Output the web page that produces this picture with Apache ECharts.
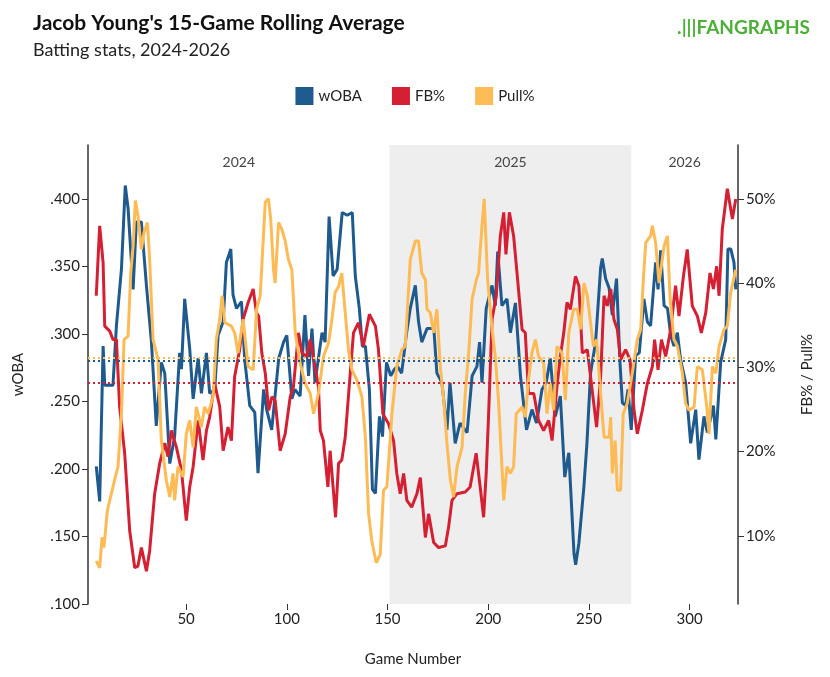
<!DOCTYPE html>
<html>
<head>
<meta charset="utf-8">
<script src="https://cdn.jsdelivr.net/npm/echarts@6/dist/echarts.min.js"></script>
<style>html,body{margin:0;padding:0;background:#fff}#chart{width:830px;height:677px}</style>
</head>
<body>
<div id="chart"></div>
<script>
// wOBA: [game, value]
var wobaPts = [[5.4,.202],[7.1,.176],[8.8,.291],[9.6,.262],[13.7,.262],[15.4,.306],[17.9,.348],[19.8,.410],[21.2,.393],[23.7,.333],[25.3,.383],[27.8,.383],[30.3,.336],[32.8,.294],[35.2,.232],[37.7,.279],[39.4,.271],[41.9,.204],[44.3,.224],[46.8,.286],[47.7,.274],[49.3,.326],[51.8,.289],[53.5,.252],[56,.282],[57.6,.256],[60.1,.286],[61.7,.256],[64.2,.259],[65.9,.299],[68.4,.309],[70,.353],[72.2,.363],[73.3,.329],[75,.319],[77.5,.324],[79.1,.281],[81.6,.247],[84.1,.242],[85.7,.197],
  [88.5,.259],[90,.244],[92.5,.229],[96,.282],[98.4,.294],[100,.299],[102.5,.252],[104,.259],[106.6,.254],[109,.314],[110.8,.269],[112.5,.304],[114,.264],[117.5,.301],[119,.294],[121,.387],[123,.343],[125,.348],[127.5,.390],[130,.388],[132.5,.390],[134,.343],[136,.319],[137.5,.291],[139,.291],[141,.259],[142.5,.185],[144,.182],[146,.239],[147.5,.224],[149.5,.279],[151.6,.269],[153.5,.274],[155,.276],[157,.271],[159.5,.301],
  [161.3,.319],[163.8,.336],[165.4,.309],[167,.294],[169.6,.304],[173,.304],[174.5,.271],[177,.264],[179.5,.229],[181,.264],[183.6,.219],[186,.234],[189.5,.227],[192,.269],[194.4,.276],[195.7,.294],[196.9,.264],[199,.319],[201.9,.336],[203.5,.321],[204.7,.361],[206.8,.321],[209.3,.326],[211,.301],[213.5,.323],[216,.269],[219,.229],[221.7,.244],[224,.234],[226.7,.259],[228.8,.264],[230.8,.282],[233.3,.239],[235.8,.254],[238,.194],[240,.212],
  [242.6,.137],[243.4,.129],[245,.145],[247.5,.187],[249,.219],[250.8,.271],[253.3,.294],[255.8,.349],[256.6,.356],[258.3,.341],[260,.334],[261.6,.314],[263.7,.341],[265.4,.279],[266.6,.249],[268.2,.247],[269.4,.259],[271,.229],[273.2,.284],[275,.286],[277.3,.326],[279,.309],[280.6,.306],[283.1,.353],[284.3,.333],[285.6,.362],[287.3,.321],[289,.319],[290.6,.299],[292.2,.291],[293.9,.301],[295.5,.281],[298,.264],[300.5,.219],[303,.244],[304.6,.207],[307.1,.239],[308.8,.227],[311.8,.247],[313,.222],[315.4,.279],[317.9,.296],[319,.363],[320.4,.363],[322,.353],[322.9,.333]];

// FB%: [game, percent]
var fbPts = [[5.4,38.5],[7.1,46.8],[8.8,42.4],[9.6,34.9],[12.1,34.3],[13.7,33.3],[15.4,33.3],[17,25.3],[19.5,19.8],[22,10.6],[24.5,6.2],[26.1,6.4],[27.8,8.6],[30.3,5.8],[31.9,8.2],[34.4,15.0],[36.9,18.6],[39.4,21.0],[41,19.4],[42.7,22.5],[45.2,20.5],[47.7,17.8],[50.1,11.8],[51.8,15.8],[53.5,18.2],[56,23.7],[58.4,19.0],[60.1,22.5],[61.7,24.1],[64.2,28.1],[66.7,25.3],[68.4,20.1],[70.8,22.9],[72.5,21.3],[74.1,28.9],[76.6,32.1],[78.3,35.7],[80.8,37.7],[83.3,39.3],[84.9,36.5],
  [86,36.1],[87.6,31.7],[89.3,29.3],[91,24.9],[92.6,26.5],[94.2,26.1],[96.7,20.1],[99.2,22.1],[101.7,26.5],[103.3,27.7],[105.8,34.1],[107.5,31.7],[110,31.3],[111.6,33.3],[114,30.1],[115.7,27.7],[116.6,22.5],[118.2,21.3],[120.4,15.8],[121.5,20.1],[124.2,12.2],[125.7,18.6],[127.3,19.0],[129,21.7],[131.5,29.3],[133.1,34.1],[135.6,35.3],[138,32.5],[141,36.3],[144,34.9],[145.5,32.1],[147.7,24.5],[150.5,23.3],[153,21.3],[154.6,17.4],[156.3,15.0],[158,17.4],[159.6,14.2],[162,13.4],[164.6,15.0],
  [166.3,16.9],[168.8,9.8],[170.4,12.6],[172.9,9.2],[175.4,8.6],[178.7,8.8],[180.3,11.0],[182,14.2],[184.5,15.0],[188.6,15.2],[191,15.8],[194,19.8],[196,15.8],[197.7,12.2],[199,17.4],[200.2,24.5],[201.9,35.7],[204,38.5],[206,45.6],[207.7,48.4],[208.8,43.4],[210.5,48.4],[212.6,45.6],[214.3,41.2],[216.8,34.5],[218.4,34.1],[220,26.9],[222.6,26.9],[225,23.7],[227.5,22.5],[230,23.7],[231.7,21.3],[234.1,27.7],[235.8,31.3],[237.5,34.1],[239.1,37.7],[240.8,36.9],[243.3,40.8],
  [245,39.7],[246.7,31.7],[249.2,32.1],[250.8,28.9],[253.8,22.9],[255.8,28.9],[257.5,38.5],[259.1,37.3],[260.8,39.3],[262.4,35.7],[264.1,34.5],[265.7,30.9],[268.2,32.1],[270.4,30.9],[272.4,24.9],[274,22.1],[276.5,24.9],[279,28.1],[281.5,30.1],[282.6,33.3],[284.3,29.7],[286,33.3],[288.1,31.3],[290.6,34.5],[293,39.7],[294.7,36.1],[296.9,40.8],[298.8,44.0],[301.3,37.3],[303.8,36.1],[305.8,34.1],[308,36.5],[310.1,41.2],[311.8,39.3],[313.4,42.0],[314.6,38.5],[316.2,46.4],[318.7,51.2],[321.2,47.6],[322.9,50.0]];

// Pull%: [game, percent]
var pullPts = [[5.4,7.0],[7.1,6.2],[8.3,9.8],[9.2,8.6],[10.9,13.0],[12.9,15.0],[14.5,16.6],[16.2,18.2],[17.9,24.5],[19.2,33.3],[21.2,33.7],[22.5,41.2],[23.7,44.4],[24.8,49.8],[26.1,48.0],[27.8,44.0],[29.1,46.0],[30.8,47.2],[31.9,42.8],[33.6,33.3],[36.1,30.9],[37.7,21.3],[40.2,16.6],[41.9,14.6],[43.5,17.4],[44.3,14.2],[46,18.2],[48.5,17.0],[50.1,22.1],[51.8,23.7],[53.5,20.5],[55.1,25.3],[57.6,22.9],[59.2,25.3],[60.9,24.5],[63.4,26.5],[65,33.3],[66.7,35.7],[67.9,38.5],[69.2,35.3],[72.5,34.9],[74.1,34.1],[75.8,31.7],[78.3,35.7],[80.8,30.1],[83.3,29.7],
  [85,36.9],[86.8,38.5],[89.3,49.6],[90.9,50.0],[92,47.6],[93.4,41.6],[94.2,40.0],[95.9,47.2],[97.5,46.4],[99.2,45.0],[100.8,42.8],[102.5,41.6],[104.2,34.1],[106.6,30.5],[109.1,28.1],[111.6,26.9],[113.3,24.5],[115.7,26.9],[118.2,31.3],[120.7,32.9],[122.4,35.7],[124,38.9],[125.7,39.6],[127.3,41.2],[129,36.5],[130.6,32.1],[132.3,29.7],[134.8,28.5],[137.3,26.5],[139,21.7],[140.6,12.6],[142.2,9.4],[144.4,6.8],[146.4,7.8],[148,15.4],[149.7,15.8],[152.2,24.5],[154.6,30.1],[157.1,32.1],[158.8,32.5],[161.3,42.8],[163.8,45.0],[165.4,45.0],
  [167,41.2],[168.8,40.4],[169.6,36.9],[171.2,36.5],[172.9,34.1],[174.5,36.9],[176.2,30.1],[177.9,26.1],[179.5,21.0],[181.2,16.6],[182.8,14.6],[184.5,18.2],[187,20.5],[188.6,26.9],[190.3,31.7],[192,38.1],[194.1,40.4],[195.2,41.2],[196.9,46.8],[198,50.0],[199.7,40.4],[201.9,34.5],[203.5,31.3],[205.2,25.7],[206.3,20.5],[207.7,14.2],[209.3,18.2],[211,17.4],[212.6,18.2],[213.9,24.5],[216.8,25.3],[218.4,24.1],[220,28.5],[221.7,31.7],[223.4,33.3],[225,31.3],[227.5,30.5],[229.2,24.5],[230.8,28.1],[232.5,24.9],[234.1,32.5],[236.6,31.7],[238.3,26.1],[240,34.1],[242.4,36.9],[244.2,36.9],
  [245.9,34.5],[247.5,40.0],[249.2,38.5],[250.8,35.3],[252.2,32.5],[253.8,33.3],[255.8,26.9],[257.5,21.7],[260,21.7],[260.8,24.1],[261.6,17.4],[263,21.3],[264.1,15.4],[265.7,15.4],[267,24.5],[269,25.7],[271.5,29.3],[274,33.3],[275.7,34.5],[277,40.4],[278.2,44.8],[280.6,45.6],[281.5,46.8],[283.1,44.8],[284.8,40.0],[287.3,44.4],[289,45.6],[290.2,38.5],[292.2,33.3],[293.9,32.5],[296.4,29.3],[298,25.7],[299.7,24.9],[302.2,25.3],[303.8,30.1],[306.3,29.7],[308.5,25.3],[309.6,22.1],[311.3,30.1],[313,29.3],[314.6,32.5],[317.1,34.5],[318.7,34.9],[320.4,38.9],[322.9,41.6]];

var seasons = [['2024',1.3,151],['2025',151,271],['2026',271,324]];
var xTicks = [50,100,150,200,250,300];
var wobaTicks = [.1,.15,.2,.25,.3,.35,.4];
var pctTicks = [10,20,30,40,50];
var avgWoba = .284, avgFb = 28.2, avgPull = 31.1;

var C = {woba:'#1f5a8e', fb:'#d42032', pull:'#fdbb55'};
var chart = echarts.init(document.getElementById('chart'));

var axisBase = {
    axisLine:{show:true,lineStyle:{color:'#333',width:1.5}},
    axisTick:{show:true,length:6,lineStyle:{color:'#333'}},
    splitLine:{show:false},
    axisLabel:{color:'#222',fontSize:15,fontFamily:'Lato'},
    nameTextStyle:{color:'#222',fontSize:15,fontFamily:'Lato'}
};

function line(name, data, yIdx, color, avg, extra){
    var s = {
        name:name, type:'line', data:data, yAxisIndex:yIdx, showSymbol:false,
        lineStyle:{color:color,width:3}, itemStyle:{color:color}, z:3,
        markLine:{silent:true,symbol:'none',label:{show:false},
            lineStyle:{color:color,type:[2,3],width:2},data:[{yAxis:avg}]}
    };
    return Object.assign(s, extra || {});
}

chart.setOption({
    animation:false,
    textStyle:{fontFamily:'Lato'},
    title:[
        {text:"Jacob Young's 15-Game Rolling Average",left:28,top:8,
         textStyle:{fontSize:21,fontWeight:'bold',color:'#111',fontFamily:'Lato'}},
        {text:'Batting stats, 2024-2026',left:28,top:36,
         textStyle:{fontSize:18,fontWeight:'normal',color:'#222',fontFamily:'Lato'}}
    ],
    graphic:[{type:'text',right:20,top:18,style:{text:'.|||FANGRAPHS',fill:'#4caf37',
        font:'bold 19px Lato'}}],
    legend:{top:82,left:'center',itemWidth:18,itemHeight:18,itemGap:30,icon:'rect',
        textStyle:{fontSize:15,color:'#222'},data:['wOBA','FB%','Pull%']},
    grid:{left:88,right:92,top:145,bottom:73},
    xAxis:Object.assign({},axisBase,{type:'value',min:1.3,max:324,
        name:'Game Number',nameLocation:'middle',nameGap:48,
        axisLine:{show:false},
        axisTick:{show:true,customValues:xTicks,length:6,lineStyle:{color:'#333'}},
        axisLabel:Object.assign({},axisBase.axisLabel,{customValues:xTicks})}),
    yAxis:[
        Object.assign({},axisBase,{type:'value',min:.1,max:.44,name:'wOBA',
            nameLocation:'middle',nameGap:62,
            axisTick:{show:true,customValues:wobaTicks,length:6,lineStyle:{color:'#333'}},
            axisLabel:Object.assign({},axisBase.axisLabel,{customValues:wobaTicks,
                formatter:function(v){return v.toFixed(3).replace(/^0/,'');}})}),
        Object.assign({},axisBase,{type:'value',min:1.9,max:56.4,name:'FB% / Pull%',
            nameLocation:'middle',nameGap:62,position:'right',
            axisTick:{show:true,customValues:pctTicks,length:6,lineStyle:{color:'#333'}},
            axisLabel:Object.assign({},axisBase.axisLabel,{customValues:pctTicks,
                formatter:'{value}%'})})
    ],
    series:[
        line('wOBA', wobaPts, 0, C.woba, avgWoba, {
            markArea:{silent:true,
                label:{position:'insideTop',distance:10,color:'#444',fontSize:14},
                data:seasons.map(function(s){
                    return [{name:s[0],xAxis:s[1],
                        itemStyle:{color:s[0]==='2025'?'#eeeeee':'rgba(0,0,0,0)'}},{xAxis:s[2]}];
                })}
        }),
        line('FB%', fbPts, 1, C.fb, avgFb),
        line('Pull%', pullPts, 1, C.pull, avgPull)
    ]
});
</script>
</body>
</html>
